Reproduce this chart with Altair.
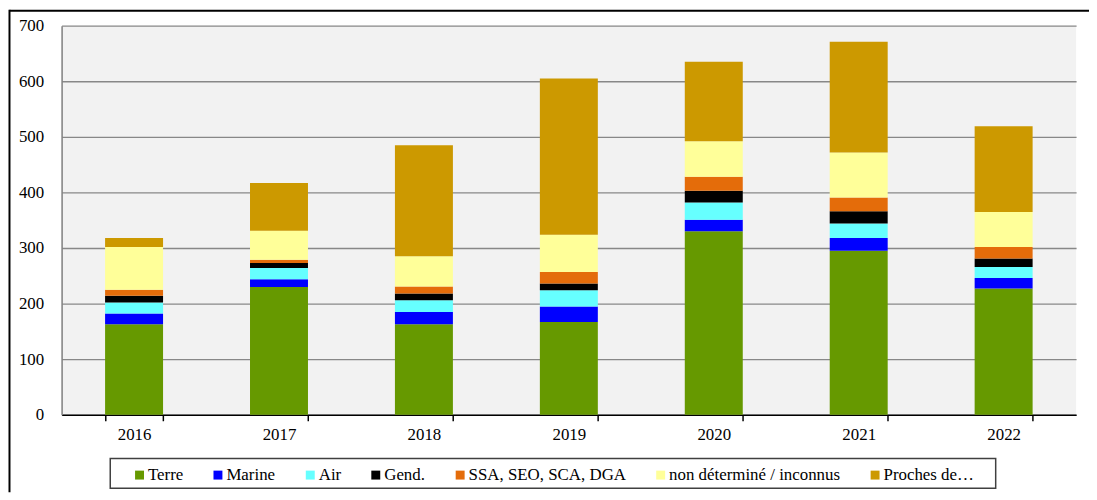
import altair as alt
import pandas as pd

years = ["2016", "2017", "2018", "2019", "2020", "2021", "2022"]
series = ["Terre", "Marine", "Air", "Gend.", "SSA, SEO, SCA, DGA",
          "non déterminé / inconnus", "Proches de…"]
colors = ["#669900", "#0000FF", "#66FFFF", "#000000", "#E46C0A", "#FFFF99", "#CC9900"]

terre = [163, 230, 163, 167, 330, 295, 227]
marine = [19, 14, 22, 28, 21, 23, 19]
air = [20, 20, 21, 29, 31, 26, 20]
gend = [12, 9, 12, 12, 21, 22, 15]
ssa = [11, 6, 13, 21, 25, 25, 21]
non_determine = [77, 52, 54, 67, 64, 81, 63]
proches = [16, 86, 200, 281, 143, 199, 154]

y_ticks = [0, 100, 200, 300, 400, 500, 600, 700]

rows = []
for i, (name, vals) in enumerate(zip(series, [terre, marine, air, gend, ssa, non_determine, proches])):
    for yr, v in zip(years, vals):
        rows.append({"Année": yr, "Catégorie": name, "Valeur": v, "ordre": i})
df = pd.DataFrame(rows)

FONT = "'Liberation Serif', 'Times New Roman', serif"

bars = alt.Chart(df).mark_bar().encode(
    x=alt.X("Année:N", sort=years,
            scale=alt.Scale(paddingInner=0.6, paddingOuter=0.3),
            axis=alt.Axis(title=None, labelAngle=0, tickBand="extent",
                          domainColor="black", domainWidth=1.5,
                          tickColor="black", tickSize=6, tickWidth=1.5,
                          labelPadding=6, labelFontSize=17, labelColor="black",
                          labelFont=FONT, grid=False)),
    y=alt.Y("Valeur:Q", stack="zero",
            scale=alt.Scale(domain=[0, 700]),
            axis=alt.Axis(title=None, values=y_ticks, grid=True,
                          gridColor="#888888", gridWidth=1.3,
                          domainColor="#808080", domainWidth=1.5,
                          ticks=False, labelPadding=18, labelFontSize=17,
                          labelFont=FONT, labelColor="black")),
    color=alt.Color("Catégorie:N",
                    scale=alt.Scale(domain=series, range=colors),
                    legend=alt.Legend(title=None, orient="none", legendX=70, legendY=444,
                                      direction="horizontal", symbolType="square",
                                      symbolSize=81, symbolStrokeWidth=0,
                                      labelFont=FONT, labelFontSize=17, labelColor="black",
                                      labelLimit=400, labelOffset=0,
                                      columnPadding=26, padding=0)),
    order=alt.Order("ordre:Q", sort="ascending"),
)

dummy = pd.DataFrame({"a": [0]})

frame_left = alt.Chart(dummy).mark_rule(color="black", strokeWidth=2).encode(
    x=alt.value(-52.5), y=alt.value(-16), y2=alt.value(470))
frame_top = alt.Chart(dummy).mark_rule(color="black", strokeWidth=2).encode(
    x=alt.value(-52.5), x2=alt.value(1035), y=alt.value(-15))
legend_box = alt.Chart(dummy).mark_rect(fill="transparent", stroke="#404040", strokeWidth=1.5).encode(
    x=alt.value(49), x2=alt.value(941), y=alt.value(436), y2=alt.value(466))

chart = alt.layer(bars, legend_box, frame_left, frame_top).properties(
    width=1022, height=392,
    autosize=alt.AutoSizeParams(type="none"),
    padding={"left": 54, "top": 16, "right": 13, "bottom": 78},
    background="white",
).configure_view(stroke=None, fill="#f2f2f2").configure_axis(
    labelFont=FONT
).configure_legend(labelFont=FONT)

chart.save("out.html", embed_options={"renderer": "svg", "actions": False})
